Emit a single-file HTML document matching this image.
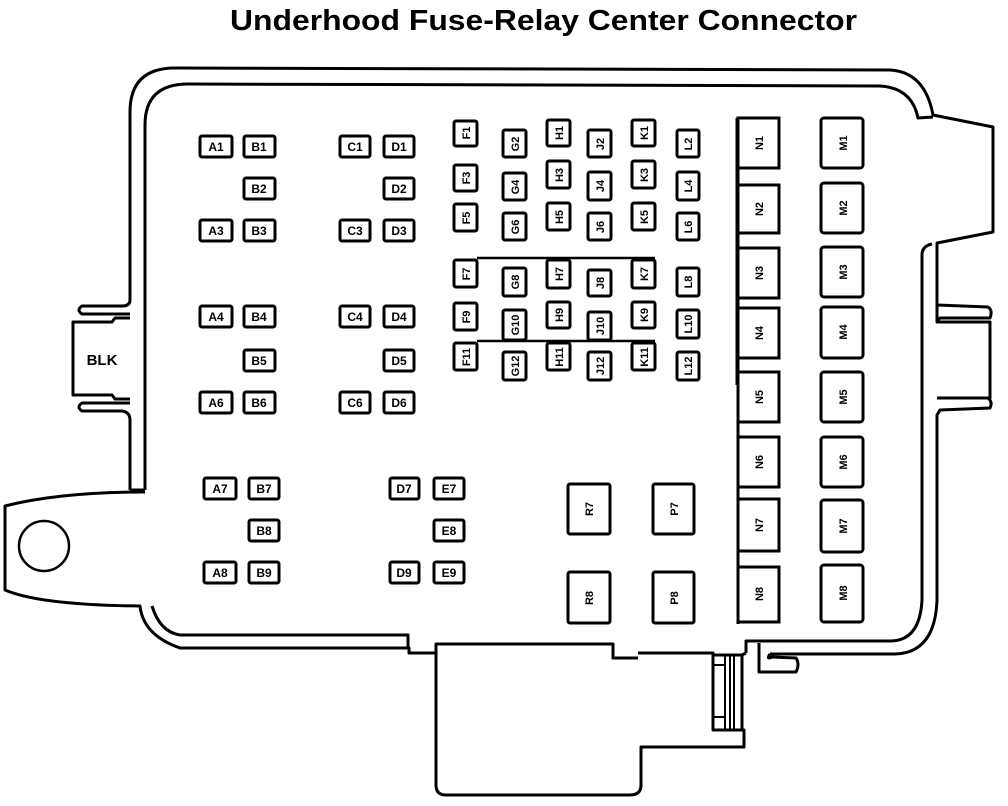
<!DOCTYPE html>
<html><head><meta charset="utf-8"><style>
html,body{margin:0;padding:0;background:#fff;}
svg{display:block;}
text{font-family:"Liberation Sans",sans-serif;font-weight:bold;}
</style></head><body>
<svg width="1008" height="806" viewBox="0 0 1008 806" xmlns="http://www.w3.org/2000/svg">
<text x="230" y="30" font-size="29" textLength="627" lengthAdjust="spacingAndGlyphs">Underhood Fuse-Relay Center Connector</text>
<g fill="none" stroke="#000" stroke-width="3" stroke-linejoin="round">
<path d="M130,300 L130,112 Q130,68 175,68 L890,70 Q925,72 933,115 L993,127 L993,232 L937,243 L937,305 L988,307 Q993,310 990,318 L940,318 L937,322"/>
<path d="M937,398 L988,398 Q993,402 990,408 L940,410 L937,415 L937,600 Q935,653 895,654 L770,654"/>
<path d="M145,490 L145,125 Q145,84 188,84 L880,86 Q912,88 918,118 L933,117"/>
<path d="M922,255 Q922,246 932,244"/>
<path d="M922,255 L922,600 Q920,641 890,641 L746,641 L746,653"/>
<path d="M759,643 L759,672 L796,672 Q800,664 796,658 L772,657 Q766,660 770,654"/>
<path d="M937,305 L937,322 L990,322 L990,398 L937,398"/>
<path d="M130,300 Q130,306 122,306 L82,306 Q76,310 82,314 L130,314"/>
<path d="M130,318 L115,318 L112,322 L73,322 L73,395 L112,395 L115,399 L130,399"/>
<path d="M130,403 L82,403 Q76,407 82,411 L122,411 Q130,412 130,420 L130,490"/>
<path d="M130,490 L145,490"/>
<path d="M145,492 Q60,492 5,506 L5,590 Q40,605 140,606 Q143,635 180,648 L409,648 L409,653 L436,653"/>
<path d="M152,606 Q160,632 180,635 L408,635 L408,648"/>
<circle cx="44" cy="546" r="25" stroke-width="2.5"/>
<path d="M436,653 L436,785 Q436,795 446,795 L630,795 Q641,795 641,785 L641,747 L744,747 L744,730 L713,730 L713,653 L638,653"/>
<path d="M436,653 L436,644 L613,644 L613,658 L638,658"/>
<path d="M713,655 L742,655 L742,730"/>
<path d="M725,655 L725,730 M730,655 L730,730 M734,655 L734,730 M713,665 L725,665 M713,717 L725,717" stroke-width="2"/>
<path d="M742,655 L746,653"/>
<path d="M738,118 L738,624"/>
<path d="M477,258 L655,258 M477,341 L655,341" stroke-width="2.5"/>
</g>
<g fill="#fff" stroke="#000" stroke-width="3">
<rect x="200" y="136" width="32" height="21" rx="2"/><rect x="244" y="136" width="31" height="21" rx="2"/>
<rect x="244" y="178" width="31" height="21" rx="2"/>
<rect x="200" y="220" width="32" height="21" rx="2"/><rect x="244" y="220" width="31" height="21" rx="2"/>
<rect x="200" y="306" width="32" height="21" rx="2"/><rect x="244" y="306" width="31" height="21" rx="2"/>
<rect x="244" y="350" width="31" height="21" rx="2"/>
<rect x="200" y="392" width="32" height="21" rx="2"/><rect x="244" y="392" width="31" height="21" rx="2"/>
<rect x="340" y="136" width="30" height="21" rx="2"/><rect x="384" y="136" width="30" height="21" rx="2"/>
<rect x="384" y="178" width="30" height="21" rx="2"/>
<rect x="340" y="220" width="30" height="21" rx="2"/><rect x="384" y="220" width="30" height="21" rx="2"/>
<rect x="340" y="306" width="30" height="21" rx="2"/><rect x="384" y="306" width="30" height="21" rx="2"/>
<rect x="384" y="350" width="30" height="21" rx="2"/>
<rect x="340" y="392" width="30" height="21" rx="2"/><rect x="384" y="392" width="30" height="21" rx="2"/>
<rect x="204" y="478" width="32" height="21" rx="2"/><rect x="249" y="478" width="30" height="21" rx="2"/>
<rect x="249" y="520" width="30" height="21" rx="2"/>
<rect x="204" y="562" width="32" height="21" rx="2"/><rect x="249" y="562" width="30" height="21" rx="2"/>
<rect x="390" y="478" width="29" height="21" rx="2"/><rect x="434" y="478" width="30" height="21" rx="2"/>
<rect x="434" y="520" width="30" height="21" rx="2"/>
<rect x="390" y="562" width="29" height="21" rx="2"/><rect x="434" y="562" width="30" height="21" rx="2"/>
<rect x="454" y="121" width="23" height="25" rx="2"/><rect x="454" y="165" width="23" height="26" rx="2"/><rect x="454" y="204" width="23" height="27" rx="2"/>
<rect x="454" y="260" width="23" height="27" rx="2"/><rect x="454" y="303" width="23" height="27" rx="2"/><rect x="454" y="343" width="23" height="27" rx="2"/>
<rect x="503" y="130" width="23" height="27" rx="2"/><rect x="503" y="173" width="23" height="27" rx="2"/><rect x="503" y="213" width="23" height="27" rx="2"/>
<rect x="503" y="268" width="23" height="28" rx="2"/><rect x="503" y="310" width="23" height="30" rx="2"/><rect x="503" y="352" width="23" height="28" rx="2"/>
<rect x="547" y="120" width="23" height="26" rx="2"/><rect x="547" y="161" width="23" height="27" rx="2"/><rect x="547" y="203" width="23" height="27" rx="2"/>
<rect x="547" y="260" width="23" height="28" rx="2"/><rect x="547" y="302" width="23" height="26" rx="2"/><rect x="547" y="343" width="23" height="27" rx="2"/>
<rect x="588" y="130" width="23" height="27" rx="2"/><rect x="588" y="172" width="23" height="28" rx="2"/><rect x="588" y="213" width="23" height="27" rx="2"/>
<rect x="588" y="270" width="23" height="26" rx="2"/><rect x="588" y="312" width="23" height="28" rx="2"/><rect x="588" y="352" width="23" height="28" rx="2"/>
<rect x="632" y="120" width="23" height="26" rx="2"/><rect x="632" y="161" width="23" height="27" rx="2"/><rect x="632" y="203" width="23" height="27" rx="2"/>
<rect x="632" y="260" width="23" height="28" rx="2"/><rect x="632" y="302" width="23" height="26" rx="2"/><rect x="632" y="343" width="23" height="27" rx="2"/>
<rect x="677" y="130" width="22" height="27" rx="2"/><rect x="677" y="172" width="22" height="28" rx="2"/><rect x="677" y="213" width="22" height="27" rx="2"/>
<rect x="677" y="268" width="22" height="28" rx="2"/><rect x="677" y="310" width="22" height="28" rx="2"/><rect x="677" y="352" width="22" height="28" rx="2"/>
<rect x="568" y="484" width="42" height="50" rx="2"/><rect x="653" y="484" width="41" height="50" rx="2"/>
<rect x="568" y="572" width="42" height="51" rx="2"/><rect x="653" y="572" width="41" height="51" rx="2"/>
<rect x="738" y="118" width="41" height="50"/><rect x="738" y="185" width="41" height="48"/><rect x="738" y="248" width="41" height="50"/><rect x="738" y="308" width="41" height="50"/>
<rect x="738" y="372" width="41" height="50"/><rect x="738" y="437" width="41" height="50"/><rect x="738" y="499" width="41" height="52"/><rect x="738" y="567" width="41" height="55"/>
<rect x="821" y="118" width="42" height="50" rx="3"/><rect x="821" y="183" width="42" height="50" rx="3"/><rect x="821" y="247" width="42" height="50" rx="3"/><rect x="821" y="307" width="42" height="51" rx="3"/>
<rect x="821" y="372" width="42" height="50" rx="3"/><rect x="821" y="437" width="42" height="50" rx="3"/><rect x="821" y="500" width="42" height="52" rx="3"/><rect x="821" y="565" width="42" height="57" rx="3"/>
</g>
<path d="M737,118 L737,385" stroke="#000" stroke-width="3"/>
<g font-size="12" text-anchor="middle">
<text x="216" y="151">A1</text><text x="259" y="151">B1</text><text x="259" y="193">B2</text>
<text x="216" y="235">A3</text><text x="259" y="235">B3</text><text x="216" y="321">A4</text><text x="259" y="321">B4</text>
<text x="259" y="365">B5</text><text x="216" y="407">A6</text><text x="259" y="407">B6</text>
<text x="355" y="151">C1</text><text x="399" y="151">D1</text><text x="399" y="193">D2</text>
<text x="355" y="235">C3</text><text x="399" y="235">D3</text><text x="355" y="321">C4</text><text x="399" y="321">D4</text>
<text x="399" y="365">D5</text><text x="355" y="407">C6</text><text x="399" y="407">D6</text>
<text x="220" y="493">A7</text><text x="264" y="493">B7</text><text x="264" y="535">B8</text>
<text x="220" y="577">A8</text><text x="264" y="577">B9</text>
<text x="404" y="493">D7</text><text x="449" y="493">E7</text><text x="449" y="535">E8</text>
<text x="404" y="577">D9</text><text x="449" y="577">E9</text>
<text x="102" y="365" font-size="15">BLK</text>
</g>
<g font-size="11" text-anchor="middle">
<text transform="translate(470,133) rotate(-90)">F1</text><text transform="translate(470,178) rotate(-90)">F3</text><text transform="translate(470,218) rotate(-90)">F5</text>
<text transform="translate(470,274) rotate(-90)">F7</text><text transform="translate(470,317) rotate(-90)">F9</text><text transform="translate(470,357) rotate(-90)">F11</text>
<text transform="translate(519,144) rotate(-90)">G2</text><text transform="translate(519,187) rotate(-90)">G4</text><text transform="translate(519,227) rotate(-90)">G6</text>
<text transform="translate(519,282) rotate(-90)">G8</text><text transform="translate(519,325) rotate(-90)">G10</text><text transform="translate(519,366) rotate(-90)">G12</text>
<text transform="translate(563,133) rotate(-90)">H1</text><text transform="translate(563,175) rotate(-90)">H3</text><text transform="translate(563,217) rotate(-90)">H5</text>
<text transform="translate(563,274) rotate(-90)">H7</text><text transform="translate(563,315) rotate(-90)">H9</text><text transform="translate(563,357) rotate(-90)">H11</text>
<text transform="translate(604,144) rotate(-90)">J2</text><text transform="translate(604,186) rotate(-90)">J4</text><text transform="translate(604,227) rotate(-90)">J6</text>
<text transform="translate(604,283) rotate(-90)">J8</text><text transform="translate(604,326) rotate(-90)">J10</text><text transform="translate(604,366) rotate(-90)">J12</text>
<text transform="translate(648,133) rotate(-90)">K1</text><text transform="translate(648,175) rotate(-90)">K3</text><text transform="translate(648,217) rotate(-90)">K5</text>
<text transform="translate(648,274) rotate(-90)">K7</text><text transform="translate(648,315) rotate(-90)">K9</text><text transform="translate(648,357) rotate(-90)">K11</text>
<text transform="translate(692,144) rotate(-90)">L2</text><text transform="translate(692,186) rotate(-90)">L4</text><text transform="translate(692,227) rotate(-90)">L6</text>
<text transform="translate(692,282) rotate(-90)">L8</text><text transform="translate(692,324) rotate(-90)">L10</text><text transform="translate(692,366) rotate(-90)">L12</text>
<text transform="translate(593,509) rotate(-90)">R7</text><text transform="translate(678,509) rotate(-90)">P7</text>
<text transform="translate(593,598) rotate(-90)">R8</text><text transform="translate(678,598) rotate(-90)">P8</text>
<text transform="translate(763,143) rotate(-90)">N1</text><text transform="translate(763,209) rotate(-90)">N2</text><text transform="translate(763,273) rotate(-90)">N3</text><text transform="translate(763,333) rotate(-90)">N4</text>
<text transform="translate(763,397) rotate(-90)">N5</text><text transform="translate(763,462) rotate(-90)">N6</text><text transform="translate(763,525) rotate(-90)">N7</text><text transform="translate(763,594) rotate(-90)">N8</text>
<text transform="translate(847,143) rotate(-90)">M1</text><text transform="translate(847,208) rotate(-90)">M2</text><text transform="translate(847,272) rotate(-90)">M3</text><text transform="translate(847,332) rotate(-90)">M4</text>
<text transform="translate(847,397) rotate(-90)">M5</text><text transform="translate(847,462) rotate(-90)">M6</text><text transform="translate(847,526) rotate(-90)">M7</text><text transform="translate(847,593) rotate(-90)">M8</text>
</g>
</svg>
</body></html>
